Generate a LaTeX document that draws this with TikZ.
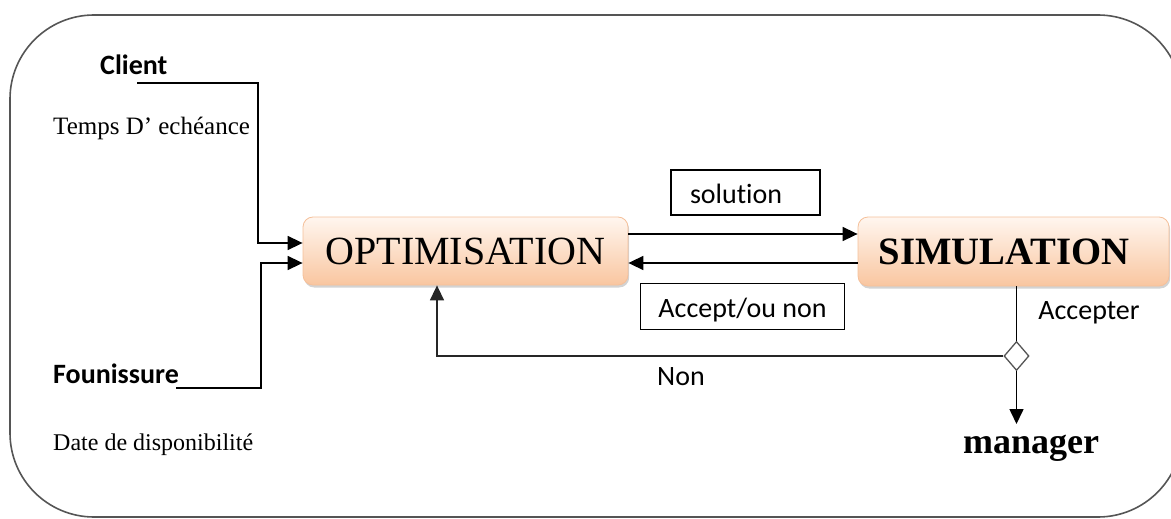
\documentclass[tikz,border=0pt]{standalone}
\usepackage{fontspec}
\setmainfont{Liberation Serif}
\newfontfamily\calibri[Ligatures=NoCommon]{Carlito}
\usetikzlibrary{arrows.meta,shapes.geometric,shadows}

\definecolor{peachtop}{HTML}{FFF6EF}
\definecolor{peachbot}{HTML}{F9C6A0}
\definecolor{peachline}{HTML}{F5C09A}
\definecolor{framegray}{HTML}{555555}

\tikzset{
  arr/.style={line width=1.6pt, -{Triangle[length=15pt,width=14pt]}},
  wire/.style={line width=1.6pt},
  procbox/.style={rounded corners=10pt, top color=peachtop, bottom color=peachbot,
    draw=peachline, line width=0.8pt,
    drop shadow={opacity=0.35, shadow xshift=1.2pt, shadow yshift=-2.5pt}},
  tagbox/.style={draw, line width=1.3pt, inner sep=0pt, text height=22pt, text depth=1pt},
  sanslab/.style={font=\calibri\fontsize{28}{32}\selectfont},
  sansbold/.style={font=\calibri\bfseries\fontsize{28}{32}\selectfont},
  seriflab/.style={font=\fontsize{24}{28}\selectfont},
}

\begin{document}
\begin{tikzpicture}[x=1pt, y=-1pt]
\useasboundingbox (0,0) rectangle (1171,519);

% outer frame
\draw[framegray, line width=1.6pt, rounded corners=84pt] (10,15) rectangle (1182,517);

% main process blocks
\node[procbox, minimum width=325pt, minimum height=68pt, inner sep=0pt,
      font=\fontsize{40}{42}\selectfont] (opt) at (465.5,251) {OPTIMISATION};
\node[procbox, minimum width=311pt, minimum height=69pt, inner sep=0pt] (sim) at (1013.5,251.5) {};
\node[font=\bfseries\fontsize{38.7}{42}\selectfont, inner sep=0pt] (simtext) at (1004,252) {SIMULATION};

% inputs on the left
\node[sansbold, anchor=base west, inner sep=0pt] (client) at (100,75) {Client};
\node[font=\fontsize{25}{28}\selectfont, anchor=base west, inner sep=0pt] (temps) at (53,135) {Temps D’ echéance};
\node[sansbold, anchor=base west, inner sep=0pt] (four) at (53,383) {Founissure};
\node[seriflab, anchor=base west, inner sep=0pt] (dispo) at (53,450) {Date de disponibilité};

\coordinate (clientend) at (137,83);
\coordinate (fourend) at (176,388);

\draw[arr] (clientend) -- (258,83) |- ([yshift=8pt]opt.west);
\draw[arr] (fourend) -- (261,388) |- ([yshift=-12pt]opt.west);

% exchanges between the blocks
\draw[arr] ([yshift=17pt]opt.east) -- ([yshift=17pt]opt.east -| sim.west);
\draw[arr] ([yshift=-11.5pt]sim.west) -- ([yshift=-11.5pt]sim.west -| opt.east);

\node[tagbox, sanslab, minimum width=149pt, minimum height=45pt, text width=111pt,
      inner xsep=19pt, align=left] (sol) at (745.5,192.5) {solution};
\node[tagbox, sanslab, minimum width=204pt, minimum height=46pt] (acc) at (742.5,306.5) {Accept/ou non};

% decision after simulation
\node[diamond, draw=framegray, line width=1.3pt, fill=white, inner sep=0pt,
      minimum width=25pt, minimum height=29pt] (dec) at (1016.5,356) {};
\draw[wire] (dec.north |- sim.south) -- (dec.north);
\node[sanslab, inner sep=0pt] (acclab) at (1089,313) {Accepter};

\node[font=\bfseries\fontsize{36}{40}\selectfont, anchor=base, inner sep=0pt] (mgr) at (1031,453) {manager};
\coordinate (mgrtip) at (1016.5,424);
\draw[arr] (dec.south) -- (mgrtip);

\draw[arr, draw=black!85] (dec.west) -| ([xshift=-28.5pt]opt.south);
\node[sanslab, inner sep=0pt] (non) at (681,377) {Non};

\end{tikzpicture}
\end{document}
